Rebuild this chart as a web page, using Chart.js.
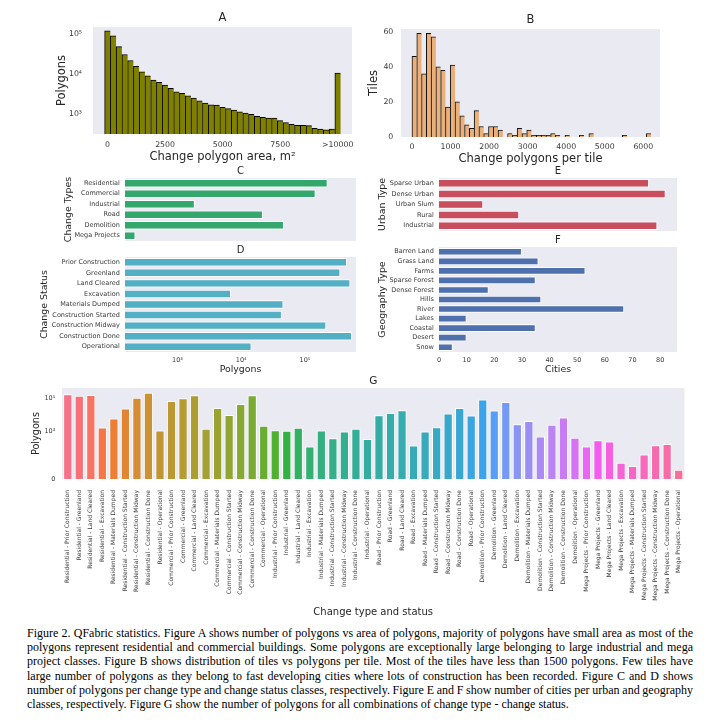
<!DOCTYPE html>
<html>
<head>
<meta charset="utf-8">
<script src="https://cdn.jsdelivr.net/npm/chart.js@4.4.1/dist/chart.umd.min.js"></script>
<style>
  body { margin: 0; width: 704px; height: 725px; background: #fff; position: relative; overflow: hidden; }
  .box { position: absolute; }
  #caption { position: absolute; left: 27px; top: 626px; width: 666px; font-family: "Liberation Serif", serif; font-size: 12px; line-height: 14.2px; color: #000; }
  #caption div { text-align: justify; text-align-last: justify; white-space: nowrap; word-spacing: -0.7px; }
  #caption div.last { text-align-last: left; word-spacing: 0; }
</style>
</head>
<body>
<div class="box"><canvas id="chartA"></canvas></div>
<div class="box"><canvas id="chartB"></canvas></div>
<div class="box"><canvas id="chartC"></canvas></div>
<div class="box"><canvas id="chartD"></canvas></div>
<div class="box"><canvas id="chartE"></canvas></div>
<div class="box"><canvas id="chartF"></canvas></div>
<div class="box"><canvas id="chartG"></canvas></div>
<div id="caption">
  <div>Figure 2. QFabric statistics. Figure A shows number of polygons vs area of polygons, majority of polygons have small area as most of the</div>
  <div>polygons represent residential and commercial buildings. Some polygons are exceptionally large belonging to large industrial and mega</div>
  <div>project classes. Figure B shows distribution of tiles vs polygons per tile. Most of the tiles have less than 1500 polygons. Few tiles have</div>
  <div>large number of polygons as they belong to fast developing cities where lots of construction has been recorded. Figure C and D shows</div>
  <div>number of polygons per change type and change status classes, respectively. Figure E and F show number of cities per urban and geography</div>
  <div class="last">classes, respectively. Figure G show the number of polygons for all combinations of change type - change status.</div>
</div>
<script>
// A: polygons per change polygon area (bins of 250 m2, last bin holds everything >10000)
const areaBinWidth = 250;
const areaCounts = [121000, 91000, 49000, 31000, 22000, 15600, 11400, 9100, 7100, 6200,
  5300, 4400, 3600, 3300, 2870, 2510, 2150, 1880, 1710, 1680,
  1470, 1360, 1260, 1140, 1060, 980, 875, 825, 795, 795,
  680, 605, 550, 520, 520, 510, 440, 420, 400, 420,
  10600];
const areaTicks = [0, 2500, 5000, 7500, 10000];
const areaTickLabels = ["0", "2500", "5000", "7500", ">10000"];

// B: tiles per number of change polygons (bins of 124 polygons)
const tileBinWidth = 124;
const tileCounts = [46, 59, 36, 59, 57, 40, 38, 17, 41, 20,
  12, 7, 5, 15, 6, 2, 6, 6, 4, 0,
  2, 1, 5, 2, 4, 1, 1, 1, 1, 2,
  1, 0, 1, 0, 0, 1, 0, 2, 0, 0,
  0, 0, 0, 0, 1, 0, 0, 0, 0, 2];
const tileTicks = [0, 1000, 2000, 3000, 4000, 5000, 6000];
const tileYTicks = [0, 20, 40, 60];

// C, D: polygons per change type / change status
const changeTypes = ["Residential", "Commercial", "Industrial", "Road", "Demolition", "Mega Projects"];
const typePolygons = [227000, 147000, 1870, 21900, 46800, 219];
const changeStatus = ["Prior Construction", "Greenland", "Land Cleared", "Excavation", "Materials Dumped",
  "Construction Started", "Construction Midway", "Construction Done", "Operational"];
const statusPolygons = [457000, 359000, 515000, 6900, 46000, 43500, 216000, 547000, 14500];
const logTicks = [1e3, 1e4, 1e5];
const logTickLabels = ["10³", "10⁴", "10⁵"];

// E, F: cities per urban type / geography type
const urbanTypes = ["Sparse Urban", "Dense Urban", "Urban Slum", "Rural", "Industrial"];
const urbanCities = [76, 82, 16, 29, 79];
const geoTypes = ["Barren Land", "Grass Land", "Farms", "Sparse Forest", "Dense Forest", "Hills",
  "River", "Lakes", "Coastal", "Desert", "Snow"];
const geoCities = [30, 36, 53, 35, 18, 37, 67, 10, 35, 10, 5];
const cityTicks = [0, 10, 20, 30, 40, 50, 60, 70, 80];

// G: polygons per change type - change status (type by type, status order as in D)
const comboPolygons = [
  184000, 152000, 167000, 1670, 5950, 24500, 115000, 233000, 1100,   // Residential
  72000, 105000, 160000, 1390, 27000, 10000, 47000, 160000, 2120,    // Commercial
  1150, 1050, 1600, 115, 1100, 370, 950, 1390, 325,                  // Industrial
  9600, 13200, 19300, 132, 955, 1760, 12000, 27000, 9100,            // Road
  87000, 18500, 63000, 2680, 4290, 470, 2440, 6850, 390,             // Demolition
  115, 280, 233, 11.5, 8.5, 37, 138, 165, 6                          // Mega Projects
];
const symTicks = [0, 1e3, 1e5];
const symTickLabels = ["0", "10³", "10⁵"];

const INK = "#262626";
const TICK = "#3a3a3a";
const PAD_R = 12;

Chart.defaults.font.family = '"DejaVu Sans", sans-serif';
Chart.defaults.color = TICK;
Chart.defaults.animation = false;
Chart.defaults.plugins.legend.display = false;
Chart.defaults.plugins.tooltip.enabled = false;

// grey seaborn-style plot background
Chart.register({
  id: "plotBg",
  beforeDraw(chart) {
    const { ctx, chartArea: a } = chart;
    ctx.save();
    ctx.fillStyle = "#eaeaf2";
    ctx.fillRect(a.left, a.top, a.width, a.height);
    ctx.restore();
  }
});

// symlog used by panel G (linear below 10)
const LIN_THRESH = 10, LIN_SPAN = 0.94;
function symlog(v) {
  return v <= LIN_THRESH ? LIN_SPAN * v / LIN_THRESH : LIN_SPAN + Math.log10(v / LIN_THRESH);
}

// husl palette as seaborn builds it for many categories
const M = [[3.2406, -1.5372, -0.4986], [-0.9689, 1.8758, 0.0415], [0.0557, -0.2040, 1.0570]];
function maxChroma(L, H) {
  const hr = H / 180 * Math.PI, sinH = Math.sin(hr), cosH = Math.cos(hr);
  const sub1 = Math.pow(L + 16, 3) / 1560896;
  const sub2 = sub1 > 0.008856 ? sub1 : L / 903.3;
  let result = Infinity;
  for (const [m1, m2, m3] of M) {
    const top = (0.99915 * m1 + 1.05122 * m2 + 1.14460 * m3) * sub2;
    const rbottom = 0.86330 * m3 - 0.17266 * m2;
    const lbottom = 0.12949 * m3 - 0.38848 * m1;
    const bottom = (rbottom * sinH + lbottom * cosH) * sub2;
    for (const t of [0, 1]) {
      const C = L * (top - 1.05122 * t) / (bottom + 0.17266 * sinH * t);
      if (C > 0 && C < result) result = C;
    }
  }
  return result;
}
function huslToRgb(H, S, L) {
  const C = maxChroma(L, H) / 100 * S;
  const hr = H / 180 * Math.PI;
  const U = Math.cos(hr) * C, V = Math.sin(hr) * C;
  const t = (L + 16) / 116;
  const Y = t ** 3 > 0.008856 ? t ** 3 : (116 * t - 16) / 903.3;
  const varU = U / (13 * L) + 0.19784, varV = V / (13 * L) + 0.46834;
  const X = -(9 * Y * varU) / ((varU - 4) * varV - varU * varV);
  const Z = (9 * Y - 15 * varV * Y - varV * X) / (3 * varV);
  const rgb = M.map(r => {
    let c = r[0] * X + r[1] * Y + r[2] * Z;
    c = c <= 0.0031308 ? 12.92 * c : 1.055 * Math.pow(c, 1 / 2.4) - 0.055;
    return Math.round(Math.min(1, Math.max(0, c)) * 255);
  });
  return `rgb(${rgb.join(",")})`;
}
function huslPalette(n) {
  const out = [];
  for (let i = 0; i < n; i++) out.push(huslToRgb(((i / n + 0.01) % 1) * 359, 0.9 * 99, 0.65 * 99));
  return out;
}

// size the chart box so the plot area lands on plot = [left, top, right, bottom]
function place(id, plot, yW, xH, topH, padB) {
  const box = document.getElementById(id).parentNode;
  box.style.left = (plot[0] - yW) + "px";
  box.style.top = (plot[1] - topH) + "px";
  box.style.width = (plot[2] - plot[0] + yW + PAD_R) + "px";
  box.style.height = (plot[3] - plot[1] + topH + xH + padB) + "px";
  return document.getElementById(id);
}
function titleOpts(text, size, space) {
  return { display: true, text, fullSize: false, color: INK, font: { size, weight: "normal" },
    padding: { top: 0, bottom: space - size * 1.2 } };
}
function axisTitle(text, size) {
  return { display: true, text, color: INK, font: { size }, padding: 0 };
}
const noGrid = { display: false, drawTicks: false };
const baseOpts = (padB) => ({ responsive: true, maintainAspectRatio: false, layout: { padding: { right: PAD_R, bottom: padB } } });
const fixedTicks = (values) => (s) => { s.ticks = values.map(v => ({ value: v })); };

// ---- A
place("chartA", [93, 27, 352, 134], 38, 30, 16, 0);
new Chart(document.getElementById("chartA"), {
  type: "bar",
  data: { datasets: [{
    data: areaCounts.map((v, i) => ({ x: i * areaBinWidth, y: v })),
    backgroundColor: "#808000", borderColor: "#000",
    borderWidth: { left: 1, top: 1, right: 0, bottom: 0 }, borderSkipped: false,
    barPercentage: 1, categoryPercentage: 1
  }] },
  options: { ...baseOpts(0),
    plugins: { title: titleOpts("A", 11.5, 16) },
    scales: {
      x: { type: "linear", offset: false, min: -630, max: 10620, grid: noGrid, border: { display: false },
        afterBuildTicks: fixedTicks(areaTicks), afterFit: s => { s.height = 30; },
        ticks: { font: { size: 7.8 }, padding: 6.3, maxRotation: 0, callback: v => areaTickLabels[areaTicks.indexOf(v)] },
        title: axisTitle("Change polygon area, m²", 11.5) },
      y: { type: "logarithmic", min: 315, max: 152000, grid: noGrid, border: { display: false },
        afterBuildTicks: fixedTicks(logTicks), afterFit: s => { s.width = 38; },
        ticks: { font: { size: 7.8 }, padding: 11, callback: v => logTickLabels[logTicks.indexOf(v)] },
        title: axisTitle("Polygons", 11.5) }
    }
  }
});

// ---- B
place("chartB", [401, 29, 660, 137], 34, 29, 16, 0);
new Chart(document.getElementById("chartB"), {
  type: "bar",
  data: { datasets: [{
    data: tileCounts.map((v, i) => ({ x: (i + 0.5) * tileBinWidth, y: v })),
    backgroundColor: "#e9b07b", borderColor: "#111",
    borderWidth: { left: 1, top: 1, right: 0, bottom: 0 }, borderSkipped: false,
    barPercentage: 1, categoryPercentage: 1
  }] },
  options: { ...baseOpts(0),
    plugins: { title: titleOpts("B", 11.5, 16) },
    scales: {
      x: { type: "linear", offset: false, min: -285, max: 6433, grid: noGrid, border: { display: false },
        afterBuildTicks: fixedTicks(tileTicks), afterFit: s => { s.height = 29; },
        ticks: { font: { size: 7.8 }, padding: 5, maxRotation: 0, callback: v => String(v) },
        title: axisTitle("Change polygons per tile", 11.5) },
      y: { min: 0, max: 61.5, grid: noGrid, border: { display: false },
        afterBuildTicks: fixedTicks(tileYTicks), afterFit: s => { s.width = 34; },
        ticks: { font: { size: 7.8 }, padding: 7.7 },
        title: axisTitle("Tiles", 11.5) }
    }
  }
});

// horizontal bar panels C-F
function hbar(id, plot, yW, xH, topH, padB, title, labels, values, color, xScale, yTitle) {
  new Chart(place(id, plot, yW, xH, topH, padB), {
    type: "bar",
    data: { labels, datasets: [{ data: values, backgroundColor: color, borderColor: "#fff", borderWidth: 1,
      barPercentage: 0.8, categoryPercentage: 1 }] },
    options: { ...baseOpts(padB), indexAxis: "y",
      plugins: { title: titleOpts(title, 10, topH) },
      scales: {
        x: xScale,
        y: { grid: noGrid, border: { display: false }, afterFit: s => { s.width = yW; },
          ticks: { font: { size: 6.5 }, padding: 5.2, autoSkip: false },
          title: axisTitle(yTitle, 9.4) }
      }
    }
  });
}
const logX = (show, xH) => ({ type: "logarithmic", min: 150, max: 632000, display: show, grid: noGrid, border: { display: false },
  afterBuildTicks: fixedTicks(logTicks), afterFit: s => { s.height = xH; },
  ticks: { font: { size: 6.5 }, padding: 4.5, callback: v => logTickLabels[logTicks.indexOf(v)] },
  title: axisTitle("Polygons", 9.4) });
const cityX = (show, xH) => ({ type: "linear", min: 0, max: 86.1, display: show, grid: noGrid, border: { display: false },
  afterBuildTicks: fixedTicks(cityTicks), afterFit: s => { s.height = xH; },
  ticks: { font: { size: 6.5 }, padding: 4.8 },
  title: axisTitle("Cities", 9.4) });

hbar("chartC", [125, 178, 356, 241], 62, 0, 13, 12, "C", changeTypes, typePolygons, "#34a86c", logX(false, 0), "Change Types");
hbar("chartD", [125, 257, 356, 352], 86, 23, 13, 0, "D", changeStatus, statusPolygons, "#53afc3", logX(true, 23), "Change Status");
hbar("chartE", [439, 178, 677, 231], 62, 0, 13, 12, "E", urbanTypes, urbanCities, "#c84e5e", cityX(false, 0), "Urban Type");
hbar("chartF", [439, 247, 677, 352], 62, 23, 13, 0, "F", geoTypes, geoCities, "#4e70ad", cityX(true, 23), "Geography Type");

// ---- G
const comboLabels = [];
changeTypes.forEach(t => changeStatus.forEach(s => comboLabels.push(t + " - " + s)));
place("chartG", [62, 388, 685, 479], 31, 139, 13, 0);
new Chart(document.getElementById("chartG"), {
  type: "bar",
  data: { labels: comboLabels, datasets: [{
    data: comboPolygons.map(symlog),
    backgroundColor: huslPalette(comboLabels.length), borderColor: "#fff", borderWidth: 1,
    barPercentage: 0.8, categoryPercentage: 1
  }] },
  options: { ...baseOpts(0),
    plugins: { title: titleOpts("G", 10.5, 13) },
    scales: {
      x: { grid: noGrid, border: { display: false }, afterFit: s => { s.height = 139; },
        ticks: { font: { size: 6 }, padding: 11, autoSkip: false, minRotation: 90, maxRotation: 90 },
        title: axisTitle("Change type and status", 10) },
      y: { min: 0, max: symlog(450000), grid: noGrid, border: { display: false },
        afterBuildTicks: fixedTicks(symTicks.map(symlog)), afterFit: s => { s.width = 31; },
        ticks: { font: { size: 6.5 }, padding: 6.7, callback: (v, i) => symTickLabels[i] },
        title: axisTitle("Polygons", 9.7) }
    }
  }
});
</script>
</body>
</html>
